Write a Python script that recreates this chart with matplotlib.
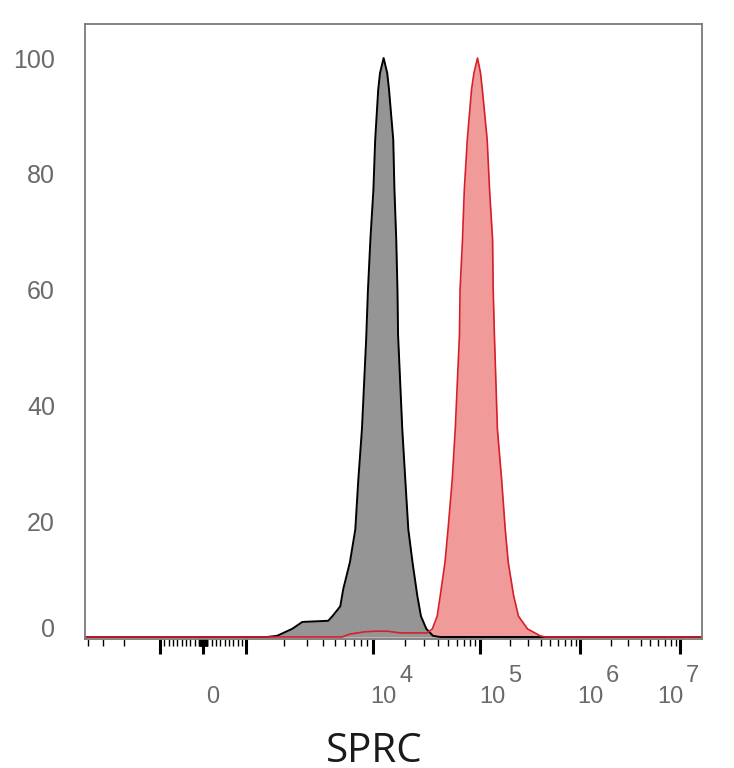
import numpy as np
import matplotlib
matplotlib.use("Agg")
from matplotlib import pyplot as plt
from matplotlib import transforms

# histogram data in display channels (0-1024), counts normalised to mode
gray_x = [0, 302, 319, 344, 361, 404, 411, 424, 429, 440, 449, 454, 460, 467, 470, 474, 479, 482, 487, 490,
          496,
          502, 505, 512, 514, 517, 519, 520, 527, 532, 537, 544, 552, 558, 567, 578, 590, 1024]
gray_y = [0, 0, 0.2, 1.4, 2.6, 2.8, 3.6, 5.3, 8.3, 12.9, 18.6, 27.2, 35.9, 51.4, 60.0, 68.6, 77.2, 85.9, 94.5, 97.4,
          100,
          97.4, 94.5, 85.9, 77.2, 68.6, 60.0, 52.2, 35.9, 27.2, 18.6, 12.9, 7.1, 3.6, 1.4, 0.2, 0, 0]

red_x = [0, 427, 440, 465, 482, 502, 524, 568, 577, 585, 590, 598, 603, 610, 615, 622, 623, 627, 630, 635, 642, 646,
         652,
         657, 660, 668, 672, 677, 678, 680, 685, 692, 698, 703, 712, 720, 735, 756, 765, 1024]
red_y = [0, 0, 0.5, 0.9, 1.0, 1.0, 0.7, 0.7, 1.4, 3.6, 7.1, 12.9, 18.6, 27.2, 35.9, 52.2, 60.0, 68.6, 77.2, 85.9, 94.5, 97.4,
         100,
         97.4, 94.5, 85.9, 77.2, 68.6, 60.0, 52.2, 35.9, 27.2, 18.6, 12.9, 7.1, 3.6, 1.4, 0.2, 0, 0]

# axis: channel position of -10^3, 0, 10^3, 10^4 ... 10^7
major_ch = [124.7, 196.2, 267.6, 478.7, 656.6, 822.8, 989.1]
label_ch = [196.2, 478.7, 656.6, 822.8, 989.1]
label_text = ["0", "10", "10", "10", "10"]
label_exp = ["", "4", "5", "6", "7"]
y_ticks = [0, 20, 40, 60, 80, 100]

TICK_FONT = "Liberation Sans"
TICK_COLOR = "#6a6a6a"


def minor_ticks():
    neg, zero, pos = major_ch[0], major_ch[1], major_ch[2]
    step = (pos - zero) / 10.0
    ticks = []
    for k in range(1, 10):
        ticks += [zero + k * step, zero - k * step, zero + k * step / 10, zero - k * step / 10]
    for m in range(2, 10):
        ticks.append(neg - 200 * np.log10(m))
    for a, b in zip(major_ch[2:-1], major_ch[3:]):
        for m in range(2, 10):
            ticks.append(a + (b - a) * np.log10(m))
    return [t for t in ticks if 0 <= t <= 1024]


def main():
    fig = plt.figure(figsize=(7.34, 7.68), dpi=100)
    ax = fig.add_axes([85 / 734, 1 - 638.5 / 768, 616.5 / 734, 615 / 768])

    ax.fill_between(red_x, red_y, 0, color="#f09a9a", lw=0)
    ax.fill_between(gray_x, gray_y, 0, color="#959595", lw=0)
    ax.plot(gray_x, gray_y, color="black", lw=1.4)
    ax.plot(red_x, red_y, color="#d61f2a", lw=1.2)

    ax.set_xlim(0, 1024)
    ax.set_ylim(-0.26, 105.96)

    for s in ax.spines.values():
        s.set_color("#7a7a7a")
        s.set_linewidth(1.3)

    ax.set_xticks(major_ch)
    ax.set_xticks(minor_ticks(), minor=True)
    ax.tick_params(axis="x", which="major", length=11, width=2.2, color="black", labelbottom=False)
    ax.tick_params(axis="x", which="minor", length=5, width=1.0, color="black")

    ax.set_yticks(y_ticks)
    ax.set_yticklabels([str(v) for v in y_ticks], fontfamily=TICK_FONT)
    ax.tick_params(axis="y", length=0, pad=21.6, labelsize=18, labelcolor=TICK_COLOR)
    zero_lab = ax.yaxis.get_major_ticks()[0].label1
    zero_lab.set_transform(zero_lab.get_transform()
                           + transforms.ScaledTranslation(0, 0.09, fig.dpi_scale_trans))

    # decade labels, shifted a little right of their ticks like the cytometer export
    base = transforms.blended_transform_factory(ax.transData, ax.transAxes)
    shifts = [10, 10.5, 12, 10, -10]
    for ch, txt, ex, dx in zip(label_ch, label_text, label_exp, shifts):
        tr = base + transforms.ScaledTranslation(dx / 100, -64.5 / 100, fig.dpi_scale_trans)
        ax.text(ch, 0, txt, transform=tr, ha="center", va="baseline",
                fontsize=17, color=TICK_COLOR, family=TICK_FONT, clip_on=False)
        if ex:
            tr2 = base + transforms.ScaledTranslation((dx + 22) / 100, -43.5 / 100, fig.dpi_scale_trans)
            ax.text(ch, 0, ex, transform=tr2, ha="center", va="baseline",
                    fontsize=17, color=TICK_COLOR, family=TICK_FONT, clip_on=False)

    fig.text(374 / 734, 1 - 762 / 768, "SPRC", ha="center", va="baseline",
             fontsize=29, family="Open Sans", color="#1a1a1a")

    fig.savefig("out.png", dpi=100)


if __name__ == "__main__":
    main()
